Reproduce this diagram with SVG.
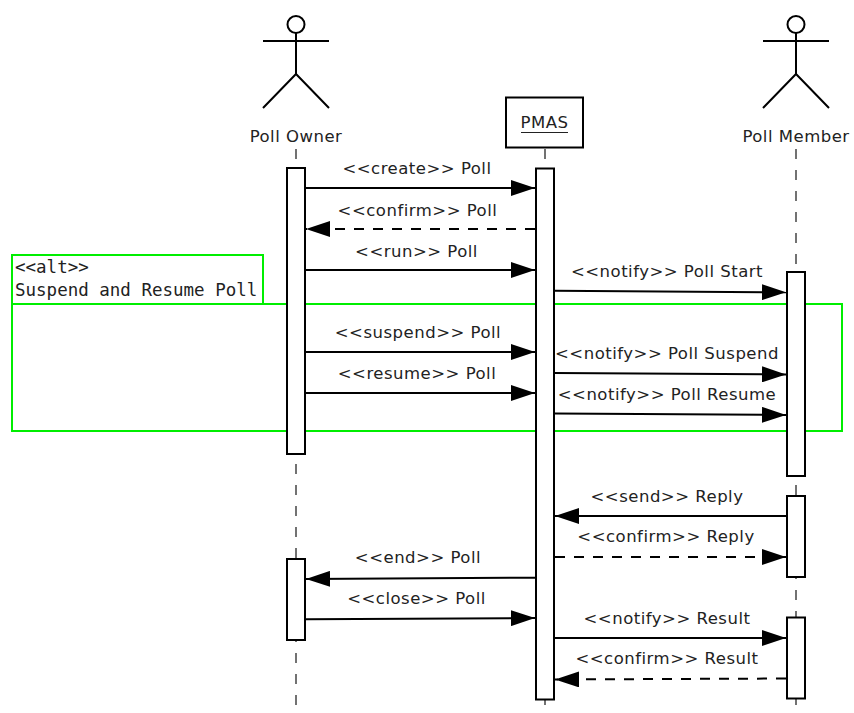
<svg xmlns="http://www.w3.org/2000/svg" width="854" height="713" viewBox="0 0 854 713">
  <style>
    .lbl { font-family: "DejaVu Sans", Verdana, sans-serif; font-size: 16.5px; letter-spacing: 0.5px; fill: #222; text-anchor: middle; }
    .mono { font-family: "DejaVu Sans Mono", "Liberation Mono", monospace; font-size: 17.5px; fill: #222; }
    .fig { stroke: #000; stroke-width: 2; fill: none; }
    .life { stroke: #444; stroke-width: 1.5; stroke-dasharray: 10 11; fill: none; }
    .act { stroke: #000; stroke-width: 2; fill: #fff; }
    .frame { stroke: #00ee00; stroke-width: 2; fill: none; }
    .msg { stroke: #000; stroke-width: 2; fill: none; marker-end: url(#arrow); }
    .ret { stroke-dasharray: 10 9; }
  </style>
  <defs>
    <marker id="arrow" markerUnits="userSpaceOnUse" markerWidth="24" markerHeight="16" refX="24" refY="8" orient="auto">
      <path d="M0,0 L24,8 L0,16 Z" fill="#000"/>
    </marker>
  </defs>
  <rect width="854" height="713" fill="#fff"/>

  <g id="alt-frame">
    <rect class="frame" x="12" y="304" width="830" height="127"/>
    <rect class="frame" x="12" y="255" width="251" height="49"/>
    <text class="mono" x="15" y="273">&lt;&lt;alt&gt;&gt;</text>
    <text class="mono" x="15" y="296">Suspend and Resume Poll</text>
  </g>

  <g id="poll-owner">
    <circle class="fig" cx="296" cy="24.5" r="8.5"/>
    <line class="fig" x1="296" y1="33" x2="296" y2="74"/>
    <line class="fig" x1="263" y1="41" x2="329" y2="41"/>
    <polyline class="fig" points="263,108 296,74 329,108"/>
    <text class="lbl" x="296" y="142">Poll Owner</text>
    <line class="life" x1="296" y1="149" x2="296" y2="713"/>
    <rect class="act" x="287" y="168" width="18" height="286"/>
    <rect class="act" x="287" y="559" width="18" height="81"/>
  </g>

  <g id="pmas">
    <rect class="fig" x="506" y="97.5" width="77" height="50"/>
    <text class="lbl" x="544.5" y="128">PMAS</text>
    <line x1="521" y1="132.5" x2="568" y2="132.5" stroke="#222" stroke-width="1.2"/>
    <line class="life" x1="545" y1="149" x2="545" y2="713"/>
    <rect class="act" x="536" y="168.5" width="18" height="531"/>
  </g>

  <g id="poll-member">
    <circle class="fig" cx="796" cy="24.5" r="8.5"/>
    <line class="fig" x1="796" y1="33" x2="796" y2="74"/>
    <line class="fig" x1="763" y1="41" x2="829" y2="41"/>
    <polyline class="fig" points="763,108 796,74 829,108"/>
    <text class="lbl" x="796" y="142">Poll Member</text>
    <line class="life" x1="796" y1="149" x2="796" y2="713"/>
    <rect class="act" x="787" y="272" width="18" height="204"/>
    <rect class="act" x="787" y="496" width="18" height="81"/>
    <rect class="act" x="787" y="617.5" width="18" height="81"/>
  </g>

  <g id="connectors">
    <line class="msg" x1="306" y1="188" x2="535" y2="188"/>
    <text class="lbl" x="417" y="174">&lt;&lt;create&gt;&gt; Poll</text>

    <line class="msg ret" x1="535" y1="229" x2="306" y2="229"/>
    <text class="lbl" x="417.5" y="216">&lt;&lt;confirm&gt;&gt; Poll</text>

    <line class="msg" x1="306" y1="270" x2="535" y2="270"/>
    <text class="lbl" x="416.5" y="257">&lt;&lt;run&gt;&gt; Poll</text>

    <line class="msg" x1="555" y1="290.7" x2="786" y2="292.3"/>
    <text class="lbl" x="667" y="277">&lt;&lt;notify&gt;&gt; Poll Start</text>

    <line class="msg" x1="306" y1="352" x2="535" y2="352"/>
    <text class="lbl" x="418" y="338">&lt;&lt;suspend&gt;&gt; Poll</text>

    <line class="msg" x1="555" y1="373" x2="786" y2="374.5"/>
    <text class="lbl" x="667" y="359">&lt;&lt;notify&gt;&gt; Poll Suspend</text>

    <line class="msg" x1="306" y1="393" x2="535" y2="393"/>
    <text class="lbl" x="417" y="379">&lt;&lt;resume&gt;&gt; Poll</text>

    <line class="msg" x1="555" y1="413.5" x2="786" y2="415"/>
    <text class="lbl" x="667" y="400">&lt;&lt;notify&gt;&gt; Poll Resume</text>

    <line class="msg" x1="786" y1="516" x2="555" y2="516"/>
    <text class="lbl" x="667" y="502">&lt;&lt;send&gt;&gt; Reply</text>

    <line class="msg ret" x1="555" y1="557" x2="786" y2="557"/>
    <text class="lbl" x="666" y="542">&lt;&lt;confirm&gt;&gt; Reply</text>

    <line class="msg" x1="535" y1="577.7" x2="306" y2="579"/>
    <text class="lbl" x="418" y="563">&lt;&lt;end&gt;&gt; Poll</text>

    <line class="msg" x1="306" y1="619.3" x2="535" y2="618"/>
    <text class="lbl" x="416.5" y="604">&lt;&lt;close&gt;&gt; Poll</text>

    <line class="msg" x1="555" y1="638" x2="786" y2="638"/>
    <text class="lbl" x="667" y="624">&lt;&lt;notify&gt;&gt; Result</text>

    <line class="msg ret" x1="786" y1="678.5" x2="555" y2="679.5"/>
    <text class="lbl" x="667" y="664">&lt;&lt;confirm&gt;&gt; Result</text>
  </g>
</svg>
